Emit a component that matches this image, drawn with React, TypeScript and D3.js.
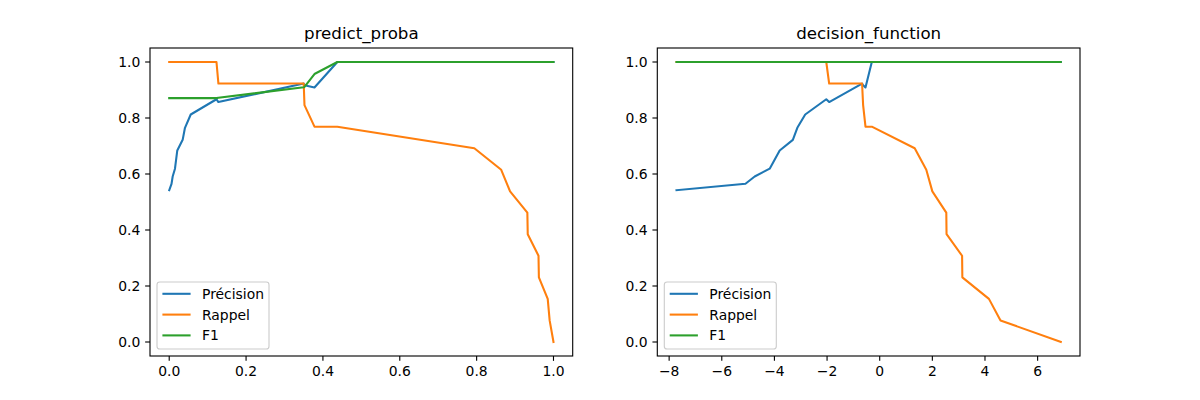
import React from "react";
import * as d3 from "d3";

// ---- Data ----
const probaThresholds = [
  0.0, 0.006, 0.009, 0.015, 0.021, 0.035, 0.041, 0.056, 0.123, 0.128, 0.35, 0.352,
  0.378, 0.4375, 0.794, 0.864, 0.887, 0.932, 0.933, 0.961, 0.962, 0.985, 0.99, 1.0,
];
const decisionThresholds = [
  -7.72, -5.1, -4.75, -4.18, -3.8, -3.3, -3.13, -2.83, -2.03, -1.92, -0.67, -0.63,
  -0.54, -0.3, 1.33, 1.77, 2.0, 2.53, 2.54, 3.13, 3.14, 4.15, 4.59, 6.88,
];
const precisionValues = [
  0.542, 0.565, 0.591, 0.619, 0.684, 0.722, 0.765, 0.8125, 0.867, 0.857, 0.923, 0.917,
  0.909, 1, 1, 1, 1, 1, 1, 1, 1, 1, 1, 1,
];
const recallValues = [
  1, 1, 1, 1, 1, 1, 1, 1, 1, 0.923, 0.923, 0.846, 0.769, 0.769, 0.692, 0.615, 0.538,
  0.462, 0.385, 0.308, 0.231, 0.154, 0.077, 0,
];
const f1ProbaValues = [
  0.871, 0.871, 0.871, 0.871, 0.871, 0.871, 0.871, 0.871, 0.871, 0.872, 0.91, 0.911,
  0.957, 1, 1, 1, 1, 1, 1, 1, 1, 1, 1, 1,
];
const f1DecisionValues = [
  1, 1, 1, 1, 1, 1, 1, 1, 1, 1, 1, 1, 1, 1, 1, 1, 1, 1, 1, 1, 1, 1, 1, 1,
];
const seriesNames = ["Précision", "Rappel", "F1"];
const seriesColors = ["#1f77b4", "#ff7f0e", "#2ca02c"];
const panelTitles = ["predict_proba", "decision_function"];
const probaTicks = [0, 0.2, 0.4, 0.6, 0.8, 1.0];
const decisionTicks = [-8, -6, -4, -2, 0, 2, 4, 6];
const yTicks = [0, 0.2, 0.4, 0.6, 0.8, 1.0];

const FONT = "DejaVu Sans, sans-serif";
const TOP = 48;
const BOTTOM = 356;
const AX_W = 422.7;

type PanelProps = {
  left: number;
  title: string;
  xs: number[];
  series: number[][];
  xTicks: number[];
  fmt: (v: number) => string;
};

function Panel({ left, title, xs, series, xTicks, fmt }: PanelProps) {
  const right = left + AX_W;
  const [xmin, xmax] = d3.extent(xs) as [number, number];
  const xpad = (xmax - xmin) * 0.05;
  const x = d3.scaleLinear().domain([xmin - xpad, xmax + xpad]).range([left, right]);
  const y = d3.scaleLinear().domain([-0.05, 1.05]).range([BOTTOM, TOP]);
  const line = d3
    .line<[number, number]>()
    .x((d) => x(d[0]))
    .y((d) => y(d[1]));
  const tickLen = 4.86;
  const pad = 4.86;
  const fs = 13.9;
  const legX = left + 7;
  const legY = BOTTOM - 7 - 67;
  return (
    <g>
      <text
        x={(left + right) / 2}
        y={TOP - 8.8}
        textAnchor="middle"
        fontFamily={FONT}
        fontSize={16.67}
        fill="#000"
      >
        {title}
      </text>
      {series.map((vals, i) => (
        <path
          key={i}
          d={line(xs.map((xv, j) => [xv, vals[j]] as [number, number])) || ""}
          fill="none"
          stroke={seriesColors[i]}
          strokeWidth={2.08}
          strokeLinejoin="round"
          strokeLinecap="square"
        />
      ))}
      <rect
        x={left}
        y={TOP}
        width={AX_W}
        height={BOTTOM - TOP}
        fill="none"
        stroke="#000"
        strokeWidth={1.11}
      />
      {xTicks.map((t) => (
        <g key={"x" + t}>
          <line x1={x(t)} x2={x(t)} y1={BOTTOM} y2={BOTTOM + tickLen} stroke="#000" strokeWidth={1.11} />
          <text
            x={x(t)}
            y={BOTTOM + tickLen + pad + 10.6}
            textAnchor="middle"
            fontFamily={FONT}
            fontSize={fs}
            fill="#000"
          >
            {fmt(t)}
          </text>
        </g>
      ))}
      {yTicks.map((t) => (
        <g key={"y" + t}>
          <line x1={left - tickLen} x2={left} y1={y(t)} y2={y(t)} stroke="#000" strokeWidth={1.11} />
          <text
            x={left - tickLen - pad}
            y={y(t) + 5}
            textAnchor="end"
            fontFamily={FONT}
            fontSize={fs}
            fill="#000"
          >
            {t.toFixed(1)}
          </text>
        </g>
      ))}
      <rect
        x={legX}
        y={legY}
        width={112}
        height={67}
        rx={2.8}
        fill="#fff"
        fillOpacity={0.8}
        stroke="#cccccc"
        strokeWidth={1.11}
      />
      {seriesNames.map((name, i) => {
        const ly = legY + 11.8 + i * 20.8;
        return (
          <g key={name}>
            <line
              x1={legX + 5.4}
              x2={legX + 33.6}
              y1={ly}
              y2={ly}
              stroke={seriesColors[i]}
              strokeWidth={2.08}
            />
            <text x={legX + 45} y={ly + 5} fontFamily={FONT} fontSize={fs} fill="#000">
              {name}
            </text>
          </g>
        );
      })}
    </g>
  );
}

export default function App() {
  const fmtProba = (v: number) => v.toFixed(1);
  const fmtDec = (v: number) => (v < 0 ? "\u2212" + Math.abs(v) : String(v));
  return (
    <svg
      width={1200}
      height={400}
      style={{ position: "absolute", left: 0, top: 0, background: "#fff" }}
    >
      <rect width={1200} height={400} fill="#fff" />
      <Panel
        left={150}
        title={panelTitles[0]}
        xs={probaThresholds}
        series={[precisionValues, recallValues, f1ProbaValues]}
        xTicks={probaTicks}
        fmt={fmtProba}
      />
      <Panel
        left={657.3}
        title={panelTitles[1]}
        xs={decisionThresholds}
        series={[precisionValues, recallValues, f1DecisionValues]}
        xTicks={decisionTicks}
        fmt={fmtDec}
      />
    </svg>
  );
}
